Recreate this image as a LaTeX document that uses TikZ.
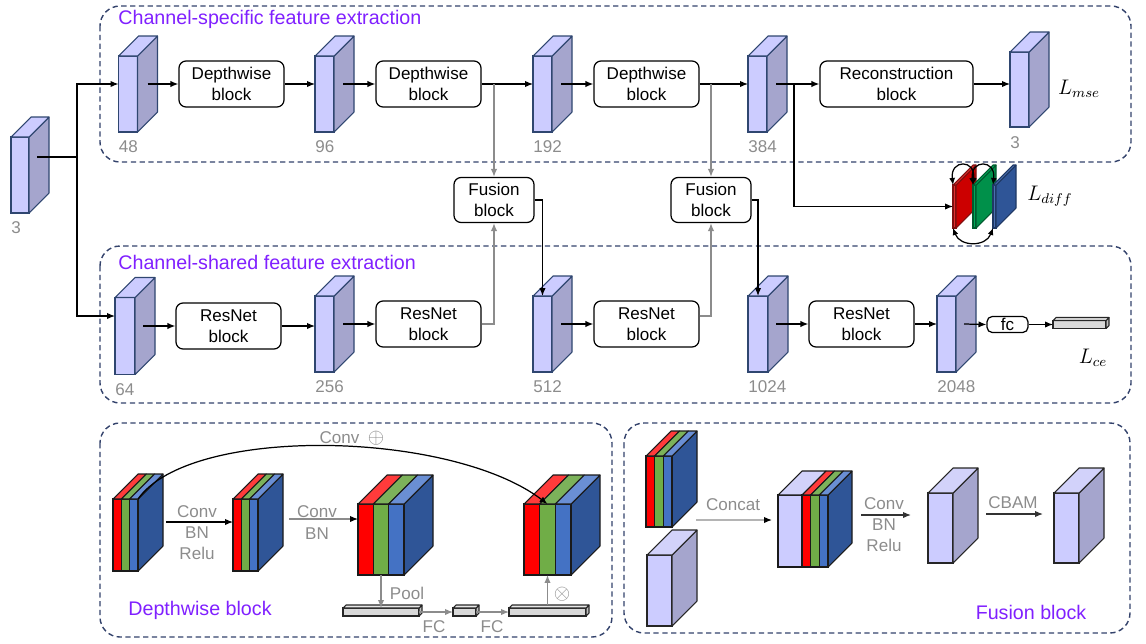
\documentclass[tikz,border=0pt]{standalone}
\usepackage{fontspec}
\setmainfont{Liberation Sans}
\usetikzlibrary{arrows.meta}
\usetikzlibrary{calc}

\definecolor{lavfront}{HTML}{CCCCFF}
\definecolor{lavside}{HTML}{A5A5CD}
\definecolor{lavtop}{HTML}{CCCCFF}
\definecolor{lavline}{HTML}{2F4670}
\definecolor{fbfront}{HTML}{CCCCFF}
\definecolor{fbside}{HTML}{A5A5CD}
\definecolor{fbtop}{HTML}{D2D2FA}
\definecolor{fbline}{HTML}{262626}
\definecolor{barfront}{HTML}{D9D9D9}
\definecolor{barside}{HTML}{BFBFBF}
\definecolor{bartop}{HTML}{E8E8E8}
\definecolor{barline}{HTML}{262626}
\definecolor{prfront}{HTML}{E03030}
\definecolor{prside}{HTML}{CC0000}
\definecolor{prtop}{HTML}{E03030}
\definecolor{prline}{HTML}{7F1010}
\definecolor{pgfront}{HTML}{00A858}
\definecolor{pgside}{HTML}{00904A}
\definecolor{pgtop}{HTML}{00A858}
\definecolor{pgline}{HTML}{005A2E}
\definecolor{pbfront}{HTML}{4A6FB0}
\definecolor{pbside}{HTML}{2F5597}
\definecolor{pbtop}{HTML}{4A6FB0}
\definecolor{pbline}{HTML}{1F3864}
\definecolor{stripred}{HTML}{FF0000}
\definecolor{stripgreen}{HTML}{70AD47}
\definecolor{stripblue}{HTML}{4472C4}
\definecolor{topred}{HTML}{FF3B3B}
\definecolor{topgreen}{HTML}{7CB25A}
\definecolor{topblue}{HTML}{6A8FD4}
\definecolor{rgbside}{HTML}{2F5597}
\definecolor{rgbline}{HTML}{1A1A1A}
\definecolor{panelline}{HTML}{33426B}
\definecolor{titlepurple}{HTML}{8020FF}
\definecolor{numgray}{HTML}{8C8C8C}

\def\px{0.02cm}
\newcommand{\blockfont}{\fontsize{9.7}{12}\selectfont}
\newcommand{\titlefont}{\fontsize{11.2}{13}\selectfont}

\tikzset{
    panel/.style={draw=panelline, dash pattern=on 3pt off 2pt, line width=0.8pt, rounded corners=0.4cm},
    title/.style={text=titlepurple, font=\titlefont, inner sep=0pt},
    block/.style={draw=black, fill=white, rounded corners=4pt, line width=0.7pt, align=center,
        minimum width=105*\px, minimum height=46*\px, inner sep=1pt, font=\blockfont},
    numlbl/.style={text=numgray, font=\blockfont, anchor=west, inner sep=0pt},
    glabel/.style={text=numgray, font=\blockfont, align=center, inner sep=0pt},
    loss/.style={font=\fontsize{12}{14}\selectfont, inner sep=0pt},
    conn/.style={line width=0.7pt},
    arr/.style={-{Latex[length=4.5pt,width=3.6pt]}, line width=0.7pt},
    garr/.style={-{Latex[length=4.5pt,width=3.6pt]}, draw=numgray, line width=0.7pt},
    gkarr/.style={-{Latex[length=4.5pt,width=3.6pt,color=black]}, draw=numgray, line width=0.7pt},
    karr/.style={-{Latex[length=4.5pt,width=3.6pt]}, draw=black!80, line width=0.7pt},
    darr/.style={{Latex[length=4pt,width=3.4pt]}-{Latex[length=4pt,width=3.4pt]}, line width=0.7pt},
    cubefront/.style={draw=#1line, fill=#1front, line width=0.6pt, inner sep=0pt, outer sep=0pt},
    cubeside/.style={draw=#1line, fill=#1side, line width=0.6pt, line join=round},
    cubetop/.style={draw=#1line, fill=#1top, line width=0.6pt, line join=round}
}

% name, front centre, width, height, depth, colour set
\newcommand{\cube}[6]{%
    \node[cubefront=#6, minimum width=#3*\px, minimum height=#4*\px] (#1) at (#2) {};
    \filldraw[cubeside=#6] (#1.north east) -- ++(#5,-#5) -- ++(0,#4) -- (#1.south east) -- cycle;
    \filldraw[cubetop=#6] (#1.north west) -- ++(#5,-#5) -- ++(#3,0) -- (#1.north east) -- cycle;
}

% name, front centre, width, height, depth, width of the lavender part
\newcommand{\rgbcube}[6]{%
    \node[inner sep=0pt, outer sep=0pt, minimum width=#3*\px, minimum height=#4*\px] (#1) at (#2) {};
    \pgfmathsetmacro{\stripw}{(#3-#6)/3}
    \filldraw[draw=rgbline, fill=rgbside, line width=0.6pt, line join=round]
        (#1.north east) -- ++(#5,-#5) -- ++(0,#4) -- (#1.south east) -- cycle;
    \ifdim #6pt>0pt
        \filldraw[cubefront=lav, draw=rgbline] (#1.north west) rectangle ++(#6,#4);
        \filldraw[cubetop=fb, draw=rgbline] (#1.north west) -- ++(#5,-#5) -- ++(#6,0) -- ++(-#5,#5) -- cycle;
    \fi
    \filldraw[draw=rgbline, fill=stripred, line width=0.6pt] ($(#1.north west)+(#6,0)$) rectangle ++(\stripw,#4);
    \filldraw[draw=rgbline, fill=topred, line width=0.6pt, line join=round]
        ($(#1.north west)+(#6,0)$) -- ++(#5,-#5) -- ++(\stripw,0) -- ++(-#5,#5) -- cycle;
    \filldraw[draw=rgbline, fill=stripgreen, line width=0.6pt] ($(#1.north west)+(#6+\stripw,0)$) rectangle ++(\stripw,#4);
    \filldraw[draw=rgbline, fill=topgreen, line width=0.6pt, line join=round]
        ($(#1.north west)+(#6+\stripw,0)$) -- ++(#5,-#5) -- ++(\stripw,0) -- ++(-#5,#5) -- cycle;
    \filldraw[draw=rgbline, fill=stripblue, line width=0.6pt] ($(#1.north west)+(#6+2*\stripw,0)$) rectangle ++(\stripw,#4);
    \filldraw[draw=rgbline, fill=topblue, line width=0.6pt, line join=round]
        ($(#1.north west)+(#6+2*\stripw,0)$) -- ++(#5,-#5) -- ++(\stripw,0) -- ++(-#5,#5) -- cycle;
}

\begin{document}
\begin{tikzpicture}[x=0.02cm, y=-0.02cm]

    \useasboundingbox (0,0) rectangle (1146,643);

    % panels
    \draw[panel] (100,6) rectangle (1131,162);
    \draw[panel] (100,246) rectangle (1131,403);
    \draw[panel] (100,423) rectangle (612,637);
    \draw[panel] (624,423) rectangle (1130,633);

    \node[title, anchor=west] (ttop) at (118,19) {Channel-specific feature extraction};
    \node[title, anchor=west] (tmid) at (118,262) {Channel-shared feature extraction};

    % feature maps
    \cube{in3}{20,175}{18}{76}{20}{lav}
    \cube{m48}{128,94}{19}{76}{20}{lav}
    \cube{m96}{324.5,94}{19}{76}{20}{lav}
    \cube{m192}{542.5,94}{19}{76}{20}{lav}
    \cube{m384}{757.5,94}{19}{76}{20}{lav}
    \cube{out3}{1019.5,89.5}{19}{75}{20}{lav}

    \cube{m64}{125,336}{20}{77}{20}{lav}
    \cube{m256}{324.5,334}{19}{76}{20}{lav}
    \cube{m512}{542.5,334}{19}{76}{20}{lav}
    \cube{m1024}{758,334}{20}{76}{20}{lav}
    \cube{m2048}{946.5,334}{19}{76}{20}{lav}

    \node[numlbl] (nin3) at ($(in3.south west)+(0,15)$) {3};
    \node[numlbl] (n48) at ($(m48.south west)+(0,15)$) {48};
    \node[numlbl] (n96) at ($(m96.south west)+(0,15)$) {96};
    \node[numlbl] (n192) at ($(m192.south west)+(0,15)$) {192};
    \node[numlbl] (n384) at ($(m384.south west)+(0,15)$) {384};
    \node[numlbl] (nout3) at ($(out3.south west)+(0,16)$) {3};
    \node[numlbl] (n64) at ($(m64.south west)+(0,15)$) {64};
    \node[numlbl] (n256) at ($(m256.south west)+(0,15)$) {256};
    \node[numlbl] (n512) at ($(m512.south west)+(0,15)$) {512};
    \node[numlbl] (n1024) at ($(m1024.south west)+(0,15)$) {1024};
    \node[numlbl] (n2048) at ($(m2048.south west)+(0,15)$) {2048};

    % blocks
    \node[block] (dw1) at (231.5,84) {Depthwise\\block};
    \node[block] (dw2) at (428.5,84) {Depthwise\\block};
    \node[block] (dw3) at (646.5,84) {Depthwise\\block};
    \node[block, minimum width=153*\px] (rec) at (896.5,84) {Reconstruction\\block};

    \node[block] (rn1) at (228.5,326) {ResNet\\block};
    \node[block] (rn2) at (428.5,324) {ResNet\\block};
    \node[block] (rn3) at (646.5,324) {ResNet\\block};
    \node[block] (rn4) at (861.5,324) {ResNet\\block};

    \node[block, minimum width=80*\px, minimum height=45*\px] (fu1) at (494,200) {Fusion\\block};
    \node[block, minimum width=80*\px, minimum height=45*\px] (fu2) at (711,200) {Fusion\\block};

    \node[block, minimum width=41*\px, minimum height=16*\px, rounded corners=3pt] (fc) at (1007.5,324.5) {fc};
    \cube{bar}{1079.5,324.5}{53}{8}{3}{bar}

    % L_diff planes
    \cube{pr}{954.5,206.5}{3}{43}{20}{pr}
    \cube{pg}{974.5,206.5}{3}{43}{20}{pg}
    \cube{pb}{994.5,206.5}{3}{43}{20}{pb}

    \node[loss] (lmse) at (1079,89) {$L_{mse}$};
    \node[loss] (ldiff) at (1050,196) {$L_{diff}$};
    \node[loss] (lce) at (1093,358) {$L_{ce}$};

    % input split
    \coordinate (split) at (77,157);
    \draw[conn] ($(in3.east)+(8,-18)$) -- (split);
    \draw[arr] (split) |- ($(m48.west)+(0,-10)$);
    \draw[arr] (split) |- ($(m64.west)+(0,-20)$);

    % channel-specific row
    \draw[arr] ($(m48.east)+(10,-10)$) -- (dw1.west);
    \draw[arr] (dw1.east) -- (dw1.east -| m96.west);
    \draw[arr] ($(m96.east)+(9,-10)$) -- (dw2.west);
    \draw[arr] (dw2.east) -- (dw2.east -| m192.west);
    \draw[arr] ($(m192.east)+(9,-10)$) -- (dw3.west);
    \draw[arr] (dw3.east) -- (dw3.east -| m384.west);
    \draw[arr] ($(m384.east)+(9,-10)$) -- (rec.west);
    \draw[arr] (rec.east) -- (rec.east -| out3.west);

    \coordinate (tap4) at ($(m384.east)+(27,-10)$);
    \draw[arr] (tap4) |- (pr.west);

    \draw[darr] (pr.north west) .. controls (950,159) and (976,159) .. (pg.north west);
    \draw[darr] (pg.north west) .. controls (970,159) and (996,159) .. (pb.north west);
    \draw[darr] (pr.south west) .. controls (960,247) and (986,247) .. (pb.south west);

    % fusion links
    \draw[garr] (dw2.east -| fu1.north) -- (fu1.north);
    \draw[garr] (dw3.east -| fu2.north) -- (fu2.north);
    \draw[garr] (rn2.east) -| (fu1.south);
    \draw[garr] ($(rn3.east)+(0,-8)$) -| (fu2.south);
    \draw[arr] (fu1.east) -| (m512.north);
    \draw[arr] (fu2.east) -| (m1024.north);

    % channel-shared row
    \draw[arr] ($(m64.east)+(8,-10)$) -- (rn1.west);
    \draw[arr] (rn1.east) -- (rn1.east -| m256.west);
    \draw[arr] ($(m256.east)+(9,-10)$) -- (rn2.west);
    \draw[arr] ($(m512.east)+(9,-10)$) -- (rn3.west);
    \draw[arr] ($(m1024.east)+(8,-10)$) -- (rn4.west);
    \draw[arr] (rn4.east) -- (rn4.east -| m2048.west);
    \draw[arr] ($(m2048.east)+(8,-10)$) -- (fc.west);
    \draw[arr] (fc.east) -- (bar.west);

    % depthwise block
    \rgbcube{c1}{125.5,535}{25}{72}{25}{0}
    \rgbcube{c2}{245.5,535}{25}{72}{25}{0}
    \rgbcube{c3}{381,539.5}{46}{71}{29}{0}
    \rgbcube{c4}{547.5,539.5}{47}{71}{29}{0}

    \draw[arr] (c1.north east) .. controls (190,425) and (450,430) .. (c4.north);
    \node[glabel] (tskip) at (352,438) {Conv\enspace{\large$\oplus$}};

    \draw[arr] ($(c1.east)+(28,-13)$) -- ($(c2.west)+(0,-13)$);
    \node[glabel] (t12) at (197,533) {Conv\\BN\\Relu};
    \draw[gkarr] ($(c2.east)+(31,-16)$) -- ($(c3.west)+(0,-20.5)$);
    \node[glabel] (t23) at (317,522.5) {Conv\\BN};

    \cube{b1}{381,612}{76}{8}{3}{bar}
    \cube{b2}{464.5,612}{23}{8}{3}{bar}
    \cube{b3}{547.5,612}{77}{8}{3}{bar}

    \draw[garr] (c3.south) -- (b1.north);
    \node[glabel] (tpool) at (407,593) {Pool};
    \draw[garr] (b1.east) -- (b2.west);
    \node[glabel] (tfc1) at (434,627) {FC};
    \draw[garr] (b2.east) -- (b3.west);
    \node[glabel] (tfc2) at (492,627) {FC};
    \draw[garr] ($(b3.north)+(0,-3)$) -- (c4.south);
    \node[glabel] (tmul) at (562,594) {\large$\otimes$};

    \node[title] (tdw) at (200,610) {Depthwise block};

    % fusion block
    \rgbcube{f1}{659,491.5}{26}{71}{25}{0}
    \cube{f2}{659.5,590.5}{25}{71}{25}{fb}
    \rgbcube{cc}{803,531}{50}{72}{24}{24}
    \cube{f3}{940.5,528}{25}{70}{25}{fb}
    \cube{f4}{1066.5,528}{25}{70}{25}{fb}

    \draw[gkarr] ($(f1.east)+(24,28.5)$) -- ($(cc.west)+(-6,-11)$);
    \node[glabel] (tcat) at (733,505) {Concat};
    \draw[karr] ($(cc.east)+(33,-16)$) -- ($(f3.west)+(-17,-13)$);
    \node[glabel] (tcbr) at (884,525) {Conv\\BN\\Relu};
    \draw[karr] ($(f3.east)+(33,-14)$) -- ($(f4.west)+(-11,-14)$);
    \node[glabel] (tcbam) at (1013,503) {CBAM};

    \node[title] (tfu) at (1031,612) {Fusion block};

\end{tikzpicture}
\end{document}
